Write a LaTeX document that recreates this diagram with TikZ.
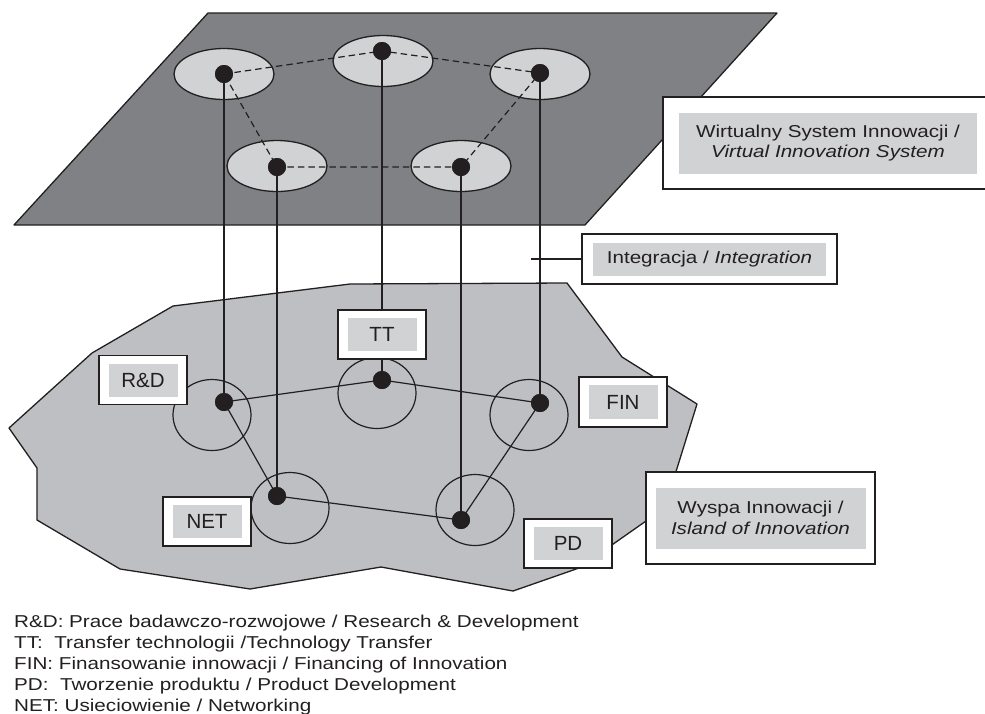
\documentclass[tikz,border=0pt]{standalone}
\usepackage{fontspec}
\setmainfont{Liberation Sans}
\newfontfamily\widesans[FakeStretch=1.2]{Liberation Sans}
\usetikzlibrary{shapes.geometric}
\definecolor{planegrey}{HTML}{808184}
\definecolor{ellgrey}{HTML}{D1D2D4}
\definecolor{islandgrey}{HTML}{BEBFC2}
\definecolor{innergrey}{HTML}{D1D2D4}
\definecolor{ink}{HTML}{231F20}
\tikzset{
  outline/.style={draw=ink, line width=1.3pt, line join=round},
  topell/.style={ellipse, outline, fill=ellgrey, minimum width=100pt, minimum height=51pt, inner sep=0pt},
  botell/.style={ellipse, draw=ink, line width=1.2pt, minimum width=78pt, minimum height=71pt, inner sep=0pt},
  dot/.style={circle, fill=ink, minimum size=18pt, inner sep=0pt},
  dashlink/.style={draw=ink, line width=1.2pt, dash pattern=on 6.5pt off 4pt},
  link/.style={draw=ink, line width=1.2pt},
  labelbox/.style n args={2}{draw=ink, line width=1.3pt, fill=white, inner sep=0pt,
    path picture={\fill[innergrey] ([shift={(#1pt,#2pt)}]path picture bounding box.south west)
      rectangle ([shift={(-#1pt,-#2pt)}]path picture bounding box.north east);}},
  smalllabel/.style={labelbox={9.5}{8}, minimum width=88pt, minimum height=49pt,
    font=\fontsize{20.5}{23}\selectfont, text=ink},
  biglabel/.style={font=\widesans\fontsize{17.2}{20.5}\selectfont, text=ink, align=center},
  legend/.style={anchor=base west, inner sep=0pt, font=\widesans\fontsize{17.2}{20.5}\selectfont, text=ink}
}
\begin{document}
\begin{tikzpicture}[x=1pt, y=-1pt]
\useasboundingbox (0,0) rectangle (985,713);
% top plane
\path[outline, fill=planegrey] (208,13) -- (777,13) -- (585,225) -- (14,225) -- cycle;
% top ellipses
\node[topell] (t1) at (224,74) {};
\node[topell] (t2) at (383,61) {};
\node[topell] (t3) at (540,74) {};
\node[topell] (t4) at (277,166) {};
\node[topell] (t5) at (461,166) {};
% top dots
\node[dot] (d1) at (224,74) {};
\node[dot] (d2) at (382,51) {};
\node[dot] (d3) at (540,73) {};
\node[dot] (d4) at (277,167) {};
\node[dot] (d5) at (461,167) {};
% island
\path[outline, fill=islandgrey] (9,428) -- (92,353) -- (173,306) -- (350,284) -- (567,283) -- (622,357)
  -- (697,404) -- (674,478) -- (646,521) -- (579,568) -- (513,591) -- (381,567) -- (250,589)
  -- (120,569) -- (37,520) -- (37,468) -- cycle;
% bottom circles
\node[botell] (crd) at (212,415) {};
\node[botell] (ctt) at (377,393) {};
\node[botell] (cfin) at (529,415) {};
\node[botell] (cnet) at (290,508) {};
\node[botell] (cpd) at (475,510) {};
% bottom dots
\node[dot] (brd) at (224,402) {};
\node[dot] (btt) at (382,380) {};
\node[dot] (bfin) at (540,403) {};
\node[dot] (bnet) at (277,496) {};
\node[dot] (bpd) at (461,520) {};
% dashed links on top
\draw[dashlink] (d1.center) -- (d2.center) -- (d3.center) -- (d5.center) -- (d4.center) -- (d1.center);
% vertical links
\draw[link] (d1.center) -- (brd.center);
\draw[link] (d4.center) -- (bnet.center);
\draw[link] (d2.center) -- (btt.center);
\draw[link] (d5.center) -- (bpd.center);
\draw[link] (d3.center) -- (bfin.center);
% bottom links
\draw[link] (brd.center) -- (btt.center) -- (bfin.center) -- (bpd.center) -- (bnet.center) -- (brd.center);
% redraw dots on top of links
\foreach \n in {d1,d2,d3,d4,d5,brd,btt,bfin,bnet,bpd} {\fill[ink] (\n) circle (9pt);}
% small labels
\node[smalllabel] (lrd) at (143,380) {R\&D};
\node[smalllabel] (ltt) at (382,334.5) {TT};
\node[smalllabel, minimum height=50pt] (lfin) at (623,402) {FIN};
\node[smalllabel] (lnet) at (207,521.5) {NET};
\node[smalllabel] (lpd) at (568,543.5) {PD};
% big labels
\node[labelbox={16}{15.5}, minimum width=330pt, minimum height=92pt] (lvis) at (828,143) {};
\node[biglabel] at (lvis) {Wirtualny System Innowacji /\\\itshape Virtual Innovation System};
\node[labelbox={11}{8.5}, minimum width=255pt, minimum height=50pt] (lint) at (709.5,259) {};
\node[biglabel] at (lint) {Integracja / \itshape Integration};
\node[labelbox={9.5}{15.5}, minimum width=229pt, minimum height=92pt] (lwi) at (760.5,518) {};
\node[biglabel] at (lwi) {Wyspa Innowacji /\\\itshape Island of Innovation};
% integration pointer
\coordinate (intpt) at (531,259);
\draw[link] (intpt) -- (lint.west);
% legend
\node[legend] (leg1) at (14,627) {R\&D: Prace badawczo-rozwojowe / Research \& Development};
\node[legend] (leg2) at (14,648) {TT:\ \ Transfer technologii /Technology Transfer};
\node[legend] (leg3) at (14,669) {FIN: Finansowanie innowacji / Financing of Innovation};
\node[legend] (leg4) at (14,690) {PD:\ \ Tworzenie produktu / Product Development};
\node[legend] (leg5) at (14,711) {NET: Usieciowienie / Networking};
\end{tikzpicture}
\end{document}
